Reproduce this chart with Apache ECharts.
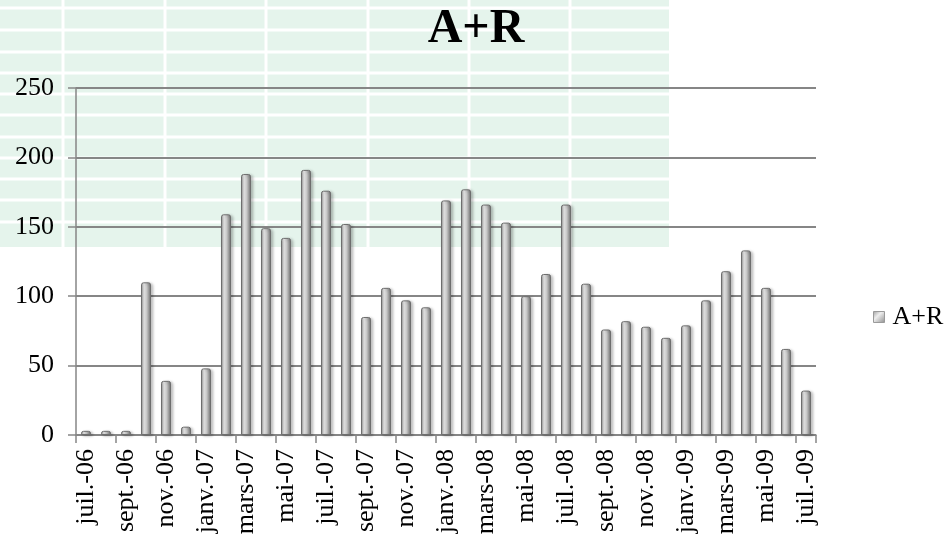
<!DOCTYPE html>
<html>
<head>
<meta charset="utf-8">
<script src="https://cdn.jsdelivr.net/npm/echarts@6/dist/echarts.min.js"></script>
<style>
html,body{margin:0;padding:0;background:#fff;}
#c{width:947px;height:538px;}
</style>
</head>
<body>
<div id="c"></div>
<script>
// ---- data ----
const categories = ['juil.-06','août-06','sept.-06','oct.-06','nov.-06','déc.-06',
  'janv.-07','févr.-07','mars-07','avr.-07','mai-07','juin-07','juil.-07','août-07',
  'sept.-07','oct.-07','nov.-07','déc.-07','janv.-08','févr.-08','mars-08','avr.-08',
  'mai-08','juin-08','juil.-08','août-08','sept.-08','oct.-08','nov.-08','déc.-08',
  'janv.-09','févr.-09','mars-09','avr.-09','mai-09','juin-09','juil.-09'];
const seriesName = 'A+R';
const values = [3,3,3,110,39,6,48,159,188,149,142,191,176,152,85,106,97,92,169,177,166,153,100,116,166,109,76,82,78,70,79,97,118,133,106,62,32];
const yTicks = { min: 0, max: 250, interval: 50 };

// ---- decorative background (spreadsheet cells showing through) ----
const bgW = 669, bgH = 247;
const bgCols = [63,165,266,368,469,570];
const bgRows = [8,30,52,73,94,115,137,158,179,200,222];
const bgEls = [{type:'rect', z:-10, silent:true, shape:{x:0,y:0,width:bgW,height:bgH}, style:{fill:'#e5f4ec'}}];
bgCols.forEach(x => bgEls.push({type:'rect', z:-9, silent:true, shape:{x:x-1.5,y:0,width:3,height:bgH}, style:{fill:'#ffffff'}}));
bgRows.forEach(y => bgEls.push({type:'rect', z:-9, silent:true, shape:{x:0,y:y-1.5,width:bgW,height:3}, style:{fill:'#ffffff'}}));

const barGrad = new echarts.graphic.LinearGradient(0,0,1,0,[
  {offset:0,color:'#848484'},{offset:0.3,color:'#efefef'},{offset:0.55,color:'#cccccc'},{offset:1,color:'#6c6c6c'}]);
const iconGrad = new echarts.graphic.LinearGradient(0,0,1,1,[
  {offset:0,color:'#9a9a9a'},{offset:0.4,color:'#eeeeee'},{offset:1,color:'#8a8a8a'}]);

const font = '"Liberation Serif", "Times New Roman", serif';
const chart = echarts.init(document.getElementById('c'), null, {renderer:'canvas'});
chart.setOption({
  animation:false,
  graphic:{elements:bgEls},
  title:{text:'A+R', left:471, top:1, textAlign:'center',
    textStyle:{fontFamily:font, fontSize:48, fontWeight:'bold', color:'#000'}},
  legend:{data:[{name:seriesName, itemStyle:{color:iconGrad, borderColor:'#9a9a9a', borderWidth:1}}],
    orient:'vertical', left:873, top:304, padding:0, itemWidth:11, itemHeight:11,
    icon:'rect',
    textStyle:{fontFamily:font, fontSize:26, color:'#000', padding:[0,0,0,3]}},
  grid:{left:76, right:131, top:88, bottom:103, containLabel:false},
  xAxis:{type:'category', data:categories, boundaryGap:true,
    axisLine:{lineStyle:{color:'#868686', width:1.5}},
    axisTick:{show:true, interval:1, length:8, lineStyle:{color:'#868686', width:1.5}},
    axisLabel:{interval:1, rotate:90, margin:14, color:'#000', fontFamily:font, fontSize:26}},
  yAxis:{type:'value', min:yTicks.min, max:yTicks.max, interval:yTicks.interval,
    axisLine:{show:true, lineStyle:{color:'#868686', width:1.5}},
    axisTick:{show:true, length:8, lineStyle:{color:'#868686', width:1.5}},
    splitLine:{lineStyle:{color:'#868686', width:2}},
    axisLabel:{margin:22, color:'#000', fontFamily:font, fontSize:26}},
  series:[{name:seriesName, type:'bar', data:values, barWidth:10,
    itemStyle:{color:barGrad, borderColor:'#6e6e6e', borderWidth:1, borderRadius:[2,2,0,0],
      shadowColor:'rgba(0,0,0,0.25)', shadowBlur:3, shadowOffsetX:2, shadowOffsetY:1}}]
});
</script>
</body>
</html>
